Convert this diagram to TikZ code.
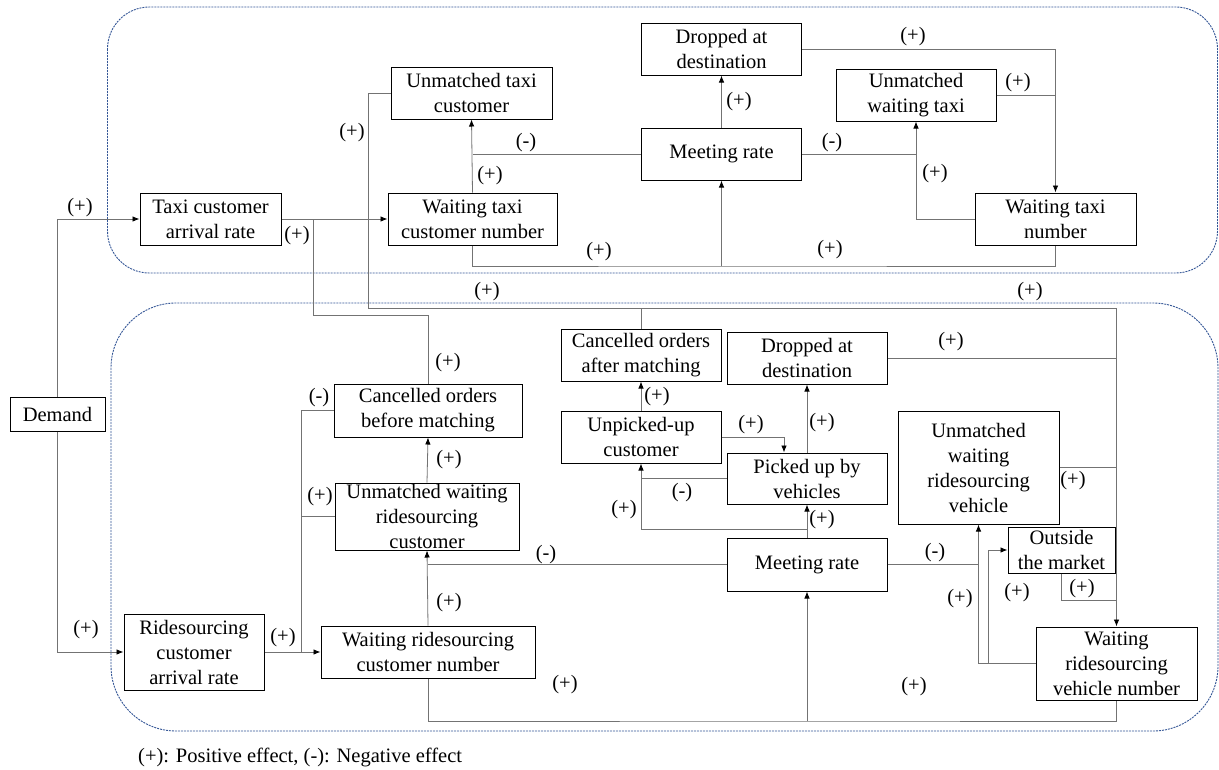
\documentclass[tikz,border=0pt]{standalone}
\usepackage{fontspec}
\setmainfont{Liberation Serif}
\newfontfamily\timesfont{Liberation Serif}
\usetikzlibrary{arrows.meta}

\tikzset{
  box/.style={draw, line width=1pt, align=center, inner sep=0pt,
    font=\timesfont\fontsize{20.5}{25}\selectfont},
  lbl/.style={inner sep=0pt, font=\timesfont\fontsize{20.5}{25}\selectfont},
  link/.style={draw=black!55, line width=0.8pt},
  arr/.style={link, -{Latex[length=7pt,width=5.5pt,color=black]}},
  group/.style={draw={rgb,255:red,52;green,86;blue,150}, line width=0.9pt,
    dash pattern=on 2pt off 1pt}
}

\begin{document}
\begin{tikzpicture}[x=1pt,y=-1pt]
    \useasboundingbox (0,0) rectangle (1219,769);
    \draw[group, rounded corners=42] (107.5,7) rectangle (1217.5,273);
    \draw[group, rounded corners=65] (111,303) rectangle (1218,731);
    % taxi market
    \node[box, minimum width=95, minimum height=34] (demand) at (57.5,414) {Demand};
    \node[box, minimum width=141, minimum height=52] (taxiArr) at (210.5,219) {Taxi customer\\arrival rate};
    \node[box, minimum width=169, minimum height=52] (taxiWait) at (472.5,219) {Waiting taxi\\customer number};
    \node[box, minimum width=161, minimum height=52] (taxiUnm) at (471.5,93) {Unmatched taxi\\customer};
    \node[box, minimum width=160, minimum height=52] (taxiDrop) at (721.5,49) {Dropped at\\destination};
    \node[box, minimum width=160, minimum height=52] (taxiMeet) at (721.5,154) {Meeting rate};
    \node[box, minimum width=160, minimum height=52] (taxiIdle) at (916,95) {Unmatched\\waiting taxi};
    \node[box, minimum width=161, minimum height=52] (taxiNum) at (1055.5,219) {Waiting taxi\\number};
    % ridesourcing market
    \node[box, minimum width=140, minimum height=76] (rideArr) at (194,652) {Ridesourcing\\customer\\arrival rate};
    \node[box, minimum width=214, minimum height=52] (rideWait) at (428,652) {Waiting ridesourcing\\customer number};
    \node[box, minimum width=184, minimum height=67] (rideUnm) at (427,516.5) {Unmatched waiting\\ridesourcing\\customer};
    \node[box, minimum width=188, minimum height=53] (cancBef) at (428,410.5) {Cancelled orders\\before matching};
    \node[box, minimum width=160, minimum height=52] (cancAft) at (641,355) {Cancelled orders\\after matching};
    \node[box, minimum width=160, minimum height=52] (rideDrop) at (807,358) {Dropped at\\destination};
    \node[box, minimum width=160, minimum height=52] (unpick) at (641,437) {Unpicked-up\\customer};
    \node[box, minimum width=160, minimum height=51] (picked) at (807,478.5) {Picked up by\\vehicles};
    \node[box, minimum width=160, minimum height=53] (rideMeet) at (807,564.5) {Meeting rate};
    \node[box, minimum width=161, minimum height=113] (vehIdle) at (978.5,467.5) {Unmatched\\waiting\\ridesourcing\\vehicle};
    \node[box, minimum width=107, minimum height=46] (outside) at (1061.5,550) {Outside\\the market};
    \node[box, minimum width=161, minimum height=73] (vehNum) at (1116.5,663.5) {Waiting\\ridesourcing\\vehicle number};

    \coordinate (j1) at (313,219);
    \coordinate (k1) at (313,315);
    \coordinate (k2) at (368,308);
    \coordinate (k3) at (721.5,266);
    \coordinate (j2) at (301,652);
    \coordinate (k4) at (807,721);
    \coordinate (k5) at (807,529);
    \coordinate (k6) at (988,663.5);
    \coordinate (k7) at (1116.5,600);

    % connectors, upper part
    \draw[arr] (demand.north) |- (taxiArr.west);
    \draw[arr] (demand.south) |- (rideArr.west);
    \draw[arr] (taxiArr.east) -- (taxiWait.west);
    \draw[link] (cancBef.north) |- (k1) -- (j1);
    \draw[arr] (taxiUnm.west) -| (k2) -| (vehNum.north);
    \draw[link] (cancAft.north) -- (cancAft.north |- k2);
    \draw[arr] (taxiWait.north) -- (taxiUnm.south);
    \draw[link] (taxiMeet.west) -- (taxiMeet.west -| taxiWait.north);
    \draw[arr] (taxiMeet.north) -- (taxiDrop.south);
    \draw[link] (taxiMeet.east) -- (taxiMeet.east -| taxiIdle.south);
    \draw[arr] (taxiNum.west) -| (taxiIdle.south);
    \draw[arr] (taxiDrop.east) -| (taxiNum.north);
    \draw[link] (taxiIdle.east) -- (taxiIdle.east -| taxiNum.north);
    \draw[link] (taxiWait.south) |- (k3) -| (taxiNum.south);
    \draw[arr] (k3) -- (taxiMeet.south);
    % connectors, lower part
    \draw[arr] (rideArr.east) -- (rideWait.west);
    \draw[link] (cancBef.west) -| (j2);
    \draw[link] (rideUnm.west) -- (rideUnm.west -| j2);
    \draw[arr] (rideUnm.north) -- (cancBef.south);
    \draw[arr] (rideWait.north) -- (rideUnm.south);
    \draw[link] (rideMeet.west) -- (rideMeet.west -| rideWait.north);
    \draw[link] (rideWait.south) |- (k4) -| (vehNum.south);
    \draw[arr] (k4) -- (rideMeet.south);
    \draw[arr] (rideMeet.north) -- (picked.south);
    \draw[arr] (k5) -| (unpick.south);
    \draw[link] (picked.west) -- (picked.west -| unpick.south);
    \draw[arr] (unpick.north) -- (cancAft.south);
    \draw[arr] (unpick.east) -| ([xshift=-23pt]picked.north);
    \draw[arr] (picked.north) -- (rideDrop.south);
    \draw[link] (rideDrop.east) -- (rideDrop.east -| vehNum.north);
    \draw[link] (vehIdle.east) -- (vehIdle.east -| vehNum.north);
    \draw[link] (rideMeet.east) -- (rideMeet.east -| vehIdle.south);
    \draw[arr] (vehNum.west) -| (vehIdle.south);
    \draw[arr] (k6) |- (outside.west);
    \draw[link] (outside.south) |- (k7);

    % effect signs
    \foreach \x/\y [count=\i] in {80/208, 297/236, 352/133, 490/176, 739/102, 913/37,
        1018/83, 935/174, 599/252, 830/250, 487/292, 1030/292, 448/363, 320/497,
        449/460, 449/603, 283/638, 86/630, 565/685, 914/687, 657/397, 751/425,
        822/423, 951/342, 624/510, 822/520, 1073/481, 960/599, 1017/593, 1082/589}
      \node[lbl] (plus\i) at (\x,\y) {(+)};
    \foreach \x/\y [count=\i] in {526/143, 832/143, 319/398, 546/555, 682/493, 935/553}
      \node[lbl] (minus\i) at (\x,\y) {(-)};

    \node[lbl, anchor=west] (legend) at (138,757) {(+): Positive effect, (-): Negative effect};
  \end{tikzpicture}
\end{document}
